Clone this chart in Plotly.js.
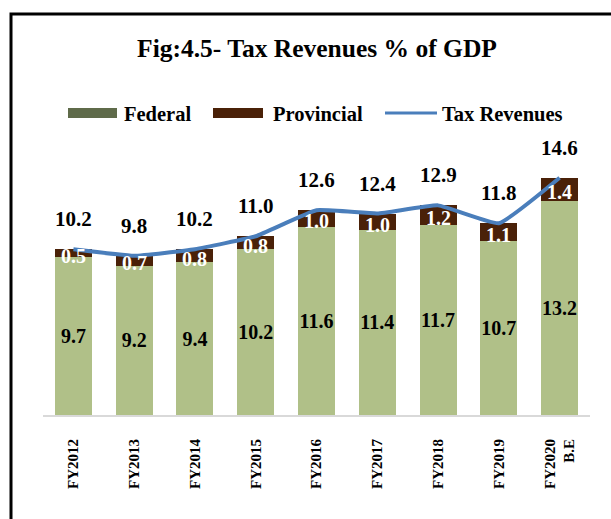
<!DOCTYPE html>
<html>
<head>
<meta charset="utf-8">
<script src="https://cdn.plot.ly/plotly-3.0.1.min.js"></script>
<style>html,body{margin:0;padding:0;background:#fff;overflow:hidden}#chart{width:611px;height:519px}</style>
</head>
<body>
<div id="chart"></div>
<script>
const categories = ["FY2012","FY2013","FY2014","FY2015","FY2016","FY2017","FY2018","FY2019","FY2020<br>B.E"];
const federal    = [9.7, 9.2, 9.4, 10.2, 11.6, 11.4, 11.7, 10.7, 13.2];
const provincial = [0.5, 0.7, 0.8, 0.8, 1.0, 1.0, 1.2, 1.1, 1.4];
const taxRevenues = [10.2, 9.8, 10.2, 11.0, 12.6, 12.4, 12.9, 11.8, 14.6];
const seriesNames = ["Federal", "Provincial", "Tax Revenues"];
const titleText = "Fig:4.5- Tax Revenues % of GDP";

const FONT = "Liberation Serif, Times New Roman, serif";
const C_FED = "#b0c088", C_PROV = "#4a2108", C_LINE = "#4a7ebb";

// plot geometry (pixels) for paper conversions
const W = 611, H = 519, L = 43, R = 21, T = 155, B = 104;
const pw = W - L - R, ph = H - T - B;
const px = x => (x - L) / pw;
const py = y => (H - B - y) / ph;

const traces = [
  {type: "bar", name: seriesNames[0], x: categories, y: federal,
   marker: {color: C_FED}, text: federal.map(v => v.toFixed(1)),
   textposition: "inside", insidetextanchor: "middle", textangle: 0, constraintext: "none",
   textfont: {family: FONT, size: 20, color: "#000", weight: "bold"}, hoverinfo: "skip", showlegend: false},
  {type: "bar", name: seriesNames[1], x: categories, y: provincial,
   marker: {color: C_PROV}, hoverinfo: "skip", showlegend: false},
  {type: "scatter", mode: "lines", name: seriesNames[2], x: categories, y: taxRevenues,
   line: {color: C_LINE, width: 4, shape: "spline", smoothing: 0.35}, hoverinfo: "skip", showlegend: false}
];

const annotations = [];
categories.forEach((c, i) => {
  annotations.push({x: c, y: taxRevenues[i], xref: "x", yref: "y", text: taxRevenues[i].toFixed(1),
    showarrow: false, yshift: 30, font: {family: FONT, size: 21, color: "#000", weight: "bold"}});
  annotations.push({x: c, y: federal[i] + provincial[i] / 2, xref: "x", yref: "y", text: provincial[i].toFixed(1),
    showarrow: false, yshift: -3, font: {family: FONT, size: 20, color: "#fff", weight: "bold"}});
});
// custom legend text
const legendFont = {family: FONT, size: 20.5, color: "#000", weight: "bold"};
annotations.push({xref: "paper", yref: "paper", x: px(122), y: py(114), xanchor: "left", yanchor: "middle", text: seriesNames[0], showarrow: false, font: legendFont});
annotations.push({xref: "paper", yref: "paper", x: px(271), y: py(114), xanchor: "left", yanchor: "middle", text: seriesNames[1], showarrow: false, font: legendFont});
annotations.push({xref: "paper", yref: "paper", x: px(440), y: py(114), xanchor: "left", yanchor: "middle", text: seriesNames[2], showarrow: false, font: legendFont});

const shapes = [
  {type: "rect", xref: "paper", yref: "paper", x0: px(68), x1: px(117), y0: py(108), y1: py(118), fillcolor: "#5f6b4a", line: {width: 0}},
  {type: "rect", xref: "paper", yref: "paper", x0: px(213), x1: px(263), y0: py(108), y1: py(118), fillcolor: C_PROV, line: {width: 0}},
  {type: "line", xref: "paper", yref: "paper", x0: px(385), x1: px(437), y0: py(113), y1: py(113), line: {color: C_LINE, width: 3}},
  {type: "rect", xref: "paper", yref: "paper", x0: px(11), x1: px(640), y0: py(14), y1: py(560), line: {color: "#000", width: 3}, fillcolor: "rgba(0,0,0,0)", layer: "above"}
];

const layout = {
  width: W, height: H,
  margin: {l: L, r: R, t: T, b: B, pad: 0},
  paper_bgcolor: "#fff", plot_bgcolor: "#fff",
  barmode: "stack", bargap: 0.39,
  title: {text: titleText, x: 317 / W, xanchor: "center", y: 1 - 48 / H, yanchor: "middle",
    font: {family: FONT, size: 25.5, color: "#000", weight: "bold"}},
  showlegend: false,
  xaxis: {type: "category", showline: true, linecolor: "#d9d9d9", linewidth: 2, ticks: "",
    tickangle: -90, ticklabelstandoff: 16, tickfont: {family: FONT, size: 15, color: "#000", weight: "bold"},
    showgrid: false, zeroline: false, fixedrange: true},
  yaxis: {range: [0, 16], visible: false, showgrid: false, zeroline: false, fixedrange: true},
  annotations: annotations,
  shapes: shapes
};

Plotly.newPlot("chart", traces, layout, {staticPlot: true, displayModeBar: false});
</script>
</body>
</html>
